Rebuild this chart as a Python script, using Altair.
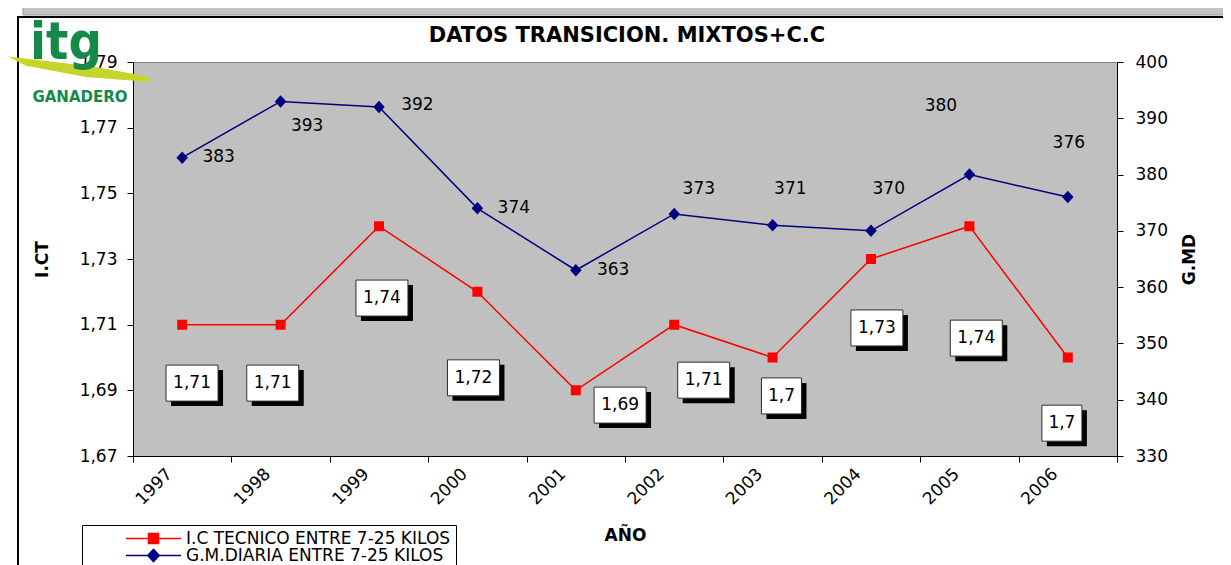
import altair as alt
import pandas as pd

# ---------------- data ----------------
years = [1997, 1998, 1999, 2000, 2001, 2002, 2003, 2004, 2005, 2006]
ict = [1.71, 1.71, 1.74, 1.72, 1.69, 1.71, 1.70, 1.73, 1.74, 1.70]
gmd = [383, 393, 392, 374, 363, 373, 371, 370, 380, 376]

ict_labels = ["1,71", "1,71", "1,74", "1,72", "1,69", "1,71", "1,7", "1,73", "1,74", "1,7"]
gmd_labels = ["383", "393", "392", "374", "363", "373", "371", "370", "380", "376"]

# label anchor positions (data units) as placed in the original chart
ict_label_x = [1997.10, 1997.92, 1999.03, 1999.96, 2001.45, 2002.30, 2003.09, 2004.06, 2005.07, 2005.94]
ict_label_y = [1.6922, 1.6922, 1.7181, 1.6938, 1.6855, 1.6931, 1.6883, 1.7090, 1.7059, 1.6800]
gmd_label_x = [1997.37, 1998.27, 1999.39, 2000.37, 2001.38, 2002.25, 2003.18, 2004.18, 2004.71, 2006.01]
gmd_label_y = [383.1, 388.6, 392.4, 374.1, 363.0, 377.4, 377.4, 377.4, 392.2, 385.6]

ict_ticks = [1.67, 1.69, 1.71, 1.73, 1.75, 1.77, 1.79]
gmd_ticks = [330, 340, 350, 360, 370, 380, 390, 400]
year_bounds = [1996.5, 1997.5, 1998.5, 1999.5, 2000.5, 2001.5, 2002.5, 2003.5, 2004.5, 2005.5, 2006.5]

S1 = "I.C TECNICO ENTRE 7-25 KILOS"
S2 = "G.M.DIARIA ENTRE 7-25 KILOS"
TITLE = "DATOS TRANSICION. MIXTOS+C.C"

# ---------------- layout ----------------
W, H = 984, 394
X_DOMAIN = [1996.5, 2006.5]
ICT_DOMAIN = [1.67, 1.79]
GMD_DOMAIN = [330, 400]
PX_X = (X_DOMAIN[1] - X_DOMAIN[0]) / W
PX_ICT = (ICT_DOMAIN[1] - ICT_DOMAIN[0]) / H
FONT = "DejaVu Sans"
RED = "#ff0000"
NAVY = "#000080"
GREEN = "#14894a"

df_ict = pd.DataFrame({"year": years, "v": ict, "serie": S1})
df_gmd = pd.DataFrame({"year": years, "v": gmd, "serie": S2})
lab_ict = pd.DataFrame({"lx": ict_label_x, "ly": ict_label_y, "label": ict_labels})
lab_gmd = pd.DataFrame({"lx": gmd_label_x, "ly": gmd_label_y, "label": gmd_labels})

xscale = alt.Scale(domain=X_DOMAIN, nice=False, zero=False)
xaxis = alt.Axis(
    values=year_bounds,
    labelExpr="datum.value < 2006 ? toString(datum.value + 0.5) : ''",
    labelAngle=-45, labelAlign="right", labelBaseline="middle",
    labelOffset=36, labelPadding=9, labelFontSize=17,
    title="AÑO", titleFontWeight="bold", titleFontSize=17, titlePadding=20,
    grid=False, tickSize=6,
)
ict_scale = alt.Scale(domain=ICT_DOMAIN, nice=False, zero=False)
ict_axis = alt.Axis(
    values=ict_ticks, labelExpr="replace(format(datum.value, '.2f'), '.', ',')",
    orient="left", title="I.CT", titleFontWeight="bold", titleFontSize=17,
    titlePadding=28, grid=False, tickSize=6, labelFontSize=17, labelPadding=10,
)
gmd_scale = alt.Scale(domain=GMD_DOMAIN, nice=False, zero=False)
gmd_axis = alt.Axis(
    values=gmd_ticks, orient="right", title="G.MD", titleFontWeight="bold",
    titleFontSize=17, titleAngle=270, titlePadding=31, grid=False, tickSize=6,
    labelFontSize=17, labelPadding=12,
)

SQ = "M-5.5,0H5.5M-1,-1H1V1H-1Z"
DI = "M-5.5,0H5.5M0,-1.25L1.15,0L0,1.25L-1.15,0Z"

legend = alt.Legend(
    orient="none", legendX=-51, legendY=463, title=None,
    symbolSize=100, labelFontSize=17, labelFont=FONT, labelColor="black",
    strokeColor="black", fillColor="white", padding=5, labelLimit=500,
    symbolOffset=58, labelOffset=24, rowPadding=-3,
    symbolStrokeWidth=1.5,
)
cscale = alt.Scale(domain=[S1, S2], range=[RED, NAVY])
shscale = alt.Scale(domain=[S1, S2], range=[SQ, DI])


def point_layer(df, yscale, yaxis):
    return alt.Chart(df).mark_point(filled=True, size=100, strokeWidth=0, opacity=1).encode(
        x=alt.X("year:Q", scale=xscale, axis=xaxis),
        y=alt.Y("v:Q", scale=yscale, axis=yaxis),
        color=alt.Color("serie:N", scale=cscale, legend=legend),
        stroke=alt.Stroke("serie:N", scale=cscale, legend=legend),
        shape=alt.Shape("serie:N", scale=shscale, legend=legend),
    )


# ---------------- I.CT group ----------------
ict_line = alt.Chart(df_ict).mark_line(color=RED, strokeWidth=1.5).encode(
    x=alt.X("year:Q", scale=xscale, axis=xaxis),
    y=alt.Y("v:Q", scale=ict_scale, axis=ict_axis),
)
ict_pts = point_layer(df_ict, ict_scale, ict_axis)
box_base = alt.Chart(lab_ict).transform_calculate(
    hw=f"(length(datum.label) > 3 ? 26 : 20) * {PX_X}",
    hh=f"18 * {PX_ICT}",
    x1="datum.lx - datum.hw", x2="datum.lx + datum.hw",
    y1="datum.ly - datum.hh", y2="datum.ly + datum.hh",
    sx1=f"datum.x1 + 5 * {PX_X}", sx2=f"datum.x2 + 5 * {PX_X}",
    sy1=f"datum.y1 - 5 * {PX_ICT}", sy2=f"datum.y2 - 5 * {PX_ICT}",
)
shadow = box_base.mark_rect(fill="black").encode(
    x=alt.X("sx1:Q", scale=xscale, axis=xaxis), x2="sx2:Q",
    y=alt.Y("sy1:Q", scale=ict_scale, axis=ict_axis), y2="sy2:Q",
)
box = box_base.mark_rect(fill="white", stroke="#303030", strokeWidth=1).encode(
    x=alt.X("x1:Q", scale=xscale, axis=xaxis), x2="x2:Q",
    y=alt.Y("y1:Q", scale=ict_scale, axis=ict_axis), y2="y2:Q",
)
box_txt = alt.Chart(lab_ict).mark_text(font=FONT, fontSize=17, color="black").encode(
    x=alt.X("lx:Q", scale=xscale, axis=xaxis),
    y=alt.Y("ly:Q", scale=ict_scale, axis=ict_axis),
    text="label:N",
)
ict_group = alt.layer(ict_line, ict_pts, shadow, box, box_txt)

# ---------------- G.MD group ----------------
gmd_line = alt.Chart(df_gmd).mark_line(color=NAVY, strokeWidth=1.5).encode(
    x=alt.X("year:Q", scale=xscale, axis=xaxis),
    y=alt.Y("v:Q", scale=gmd_scale, axis=gmd_axis),
)
gmd_pts = point_layer(df_gmd, gmd_scale, gmd_axis)
gmd_txt = alt.Chart(lab_gmd).mark_text(font=FONT, fontSize=17, color="black").encode(
    x=alt.X("lx:Q", scale=xscale, axis=xaxis),
    y=alt.Y("ly:Q", scale=gmd_scale, axis=gmd_axis),
    text="label:N",
)
gmd_group = alt.layer(gmd_line, gmd_pts, gmd_txt)

# ---------------- decorations (frame, title, logo) ----------------
one = pd.DataFrame({"a": [0]})
strip = alt.Chart(one).mark_rect(fill="#c4c4c4", stroke="#9a9a9a", strokeWidth=1).encode(
    x=alt.value(-110), x2=alt.value(1200), y=alt.value(-70), y2=alt.value(-47))
frame = alt.Chart(one).mark_rect(fill="transparent", stroke="black", strokeWidth=2).encode(
    x=alt.value(-115), x2=alt.value(1200), y=alt.value(-45), y2=alt.value(600))
title = alt.Chart(one).mark_text(text=TITLE, font=FONT, fontSize=21, fontWeight="bold",
                                 color="black", align="center", baseline="middle").encode(
    x=alt.value(W / 2 + 2), y=alt.value(-26))
swoosh = alt.Chart(one).mark_point(
    shape="M-1,-0.19 L0.2,-0.05 L1,0.1 L1,0.17 L0.1,0.1 L-0.75,-0.06 Z",
    filled=True, fill="#c5d52a", size=20164, opacity=1, strokeWidth=0,
).encode(x=alt.value(-54), y=alt.value(8))
itg = alt.Chart(one).mark_text(text="itg", font="DejaVu Sans Condensed", fontSize=52,
                               fontWeight="bold", color=GREEN, align="center",
                               baseline="alphabetic").encode(
    x=alt.value(-67), y=alt.value(-3))
ganadero = alt.Chart(one).mark_text(text="GANADERO", font="DejaVu Sans", fontSize=15,
                                    fontWeight="bold", color=GREEN, align="center",
                                    baseline="middle").encode(
    x=alt.value(-53), y=alt.value(35))

chart = alt.layer(
    frame, strip, title, ict_group, gmd_group, swoosh, itg, ganadero
).resolve_scale(y="independent").properties(
    width=W, height=H,
    autosize=alt.AutoSizeParams(type="none"),
    padding={"left": 125, "top": 54, "right": 106, "bottom": 110},
).configure(background="white").configure_view(
    fill="#c0c0c0", stroke="#808080", strokeWidth=1
).configure_axis(
    domainColor="black", tickColor="black", labelColor="black", titleColor="black",
    labelFont=FONT, titleFont=FONT, domainWidth=1, tickWidth=1,
)

chart.save("out.html", embed_options={"renderer": "svg", "actions": False})
